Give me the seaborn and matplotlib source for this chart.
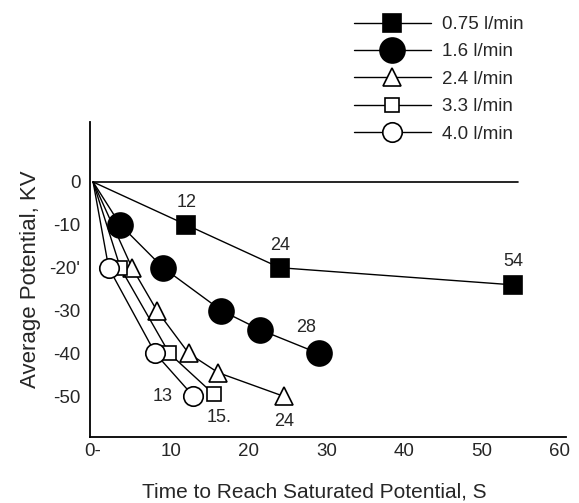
import matplotlib
matplotlib.use("Agg")
import matplotlib.pyplot as plt
import seaborn as sns
import pandas as pd

sns.set_theme(style="white")
plt.rcParams['font.family'] = ['Liberation Sans', 'DejaVu Sans']

# Data
series_names = ["0.75 l/min", "1.6 l/min", "2.4 l/min", "3.3 l/min", "4.0 l/min"]
t_075 = [0, 12, 24, 54]
v_075 = [0, -10, -20, -24]
t_16 = [0, 3.5, 9, 16.5, 21.5, 29]
v_16 = [0, -10, -20, -30, -34.5, -40]
t_24 = [0, 5, 8.2, 12.3, 16.1, 24.5]
v_24 = [0, -20, -30, -40, -44.5, -50]
t_33 = [0, 3.5, 9.8, 15.5]
v_33 = [0, -20, -40, -49.5]
t_40 = [0, 2, 8, 12.9]
v_40 = [0, -20, -40, -50]

ann_texts = ["12", "24", "54", "28", "24", "15.", "13"]
ann_x = [12, 24, 54, 29, 24.5, 15.5, 12.9]
ann_y = [-10, -20, -24, -40, -50, -49.5, -50]

xticks = [0, 10, 20, 30, 40, 50, 60]
xticklabels = ["0-", "10", "20", "30", "40", "50", "60"]
yticks = [0, -10, -20, -30, -40, -50]
yticklabels = ["0", "-10", "-20'", "-30", "-40", "-50"]

styles = [
    dict(marker='s', markersize=13, markerfacecolor='black'),
    dict(marker='o', markersize=18, markerfacecolor='black'),
    dict(marker='^', markersize=13, markerfacecolor='white'),
    dict(marker='s', markersize=10, markerfacecolor='white'),
    dict(marker='o', markersize=14, markerfacecolor='white'),
]
data = [(t_075, v_075), (t_16, v_16), (t_24, v_24), (t_33, v_33), (t_40, v_40)]

fig = plt.figure(figsize=(5.79, 5.03), dpi=100)
ax = fig.add_axes([90/579, 1-437/503, (566-90)/579, (437-122)/503])

handles = []
for name, (tx, vy), st in zip(series_names, data, styles):
    df = pd.DataFrame({"t": tx, "v": vy})
    sns.lineplot(data=df, x="t", y="v", ax=ax, color='black', linewidth=1.0,
                 markeredgecolor='black', markeredgewidth=1.2, sort=False,
                 estimator=None, label=name, legend=False,
                 markevery=list(range(1, len(tx))), **st)
    handles.append(ax.get_lines()[-1])

ax.axhline(0, xmin=(0+0.4)/61.2, xmax=(54.6+0.4)/61.2, color='black', linewidth=1.2)

offsets = [(0, 16), (0, 16), (0, 17), (-9, 19), (0, -18), (4, -17), (-22, 0)]
for txt, x, y, off in zip(ann_texts, ann_x, ann_y, offsets):
    ax.annotate(txt, (x, y), xytext=off, textcoords='offset points',
                ha='center', va='center', fontsize=13)

ax.set_xlim(-0.4, 60.8)
ax.set_ylim(-59.5, 14)
ax.set_xticks(xticks)
ax.set_xticklabels(xticklabels, fontsize=13.5)
ax.set_yticks(yticks)
ax.set_yticklabels(yticklabels, fontsize=13.5)
ax.tick_params(axis='x', direction='in', length=6, width=1, color='black', pad=4)
ax.tick_params(axis='y', length=0, pad=7)
for s in ['top', 'right']:
    ax.spines[s].set_visible(False)
for s in ['left', 'bottom']:
    ax.spines[s].set_color('black')
    ax.spines[s].set_linewidth(1.3)

ax.set_xlabel("Time to Reach Saturated Potential, S", fontsize=15)
ax.xaxis.set_label_coords((314-90)/(566-90), -0.145)
ax.set_ylabel("Average Potential, KV", fontsize=16, labelpad=6)

leg = fig.legend(handles=handles, labels=series_names, loc='upper left',
                 bbox_to_anchor=(338/579, 1.0), frameon=False, fontsize=13.5,
                 handlelength=4.1, labelspacing=0.55, borderaxespad=0.45,
                 handletextpad=0.6)

fig.savefig("out.png", dpi=100)
